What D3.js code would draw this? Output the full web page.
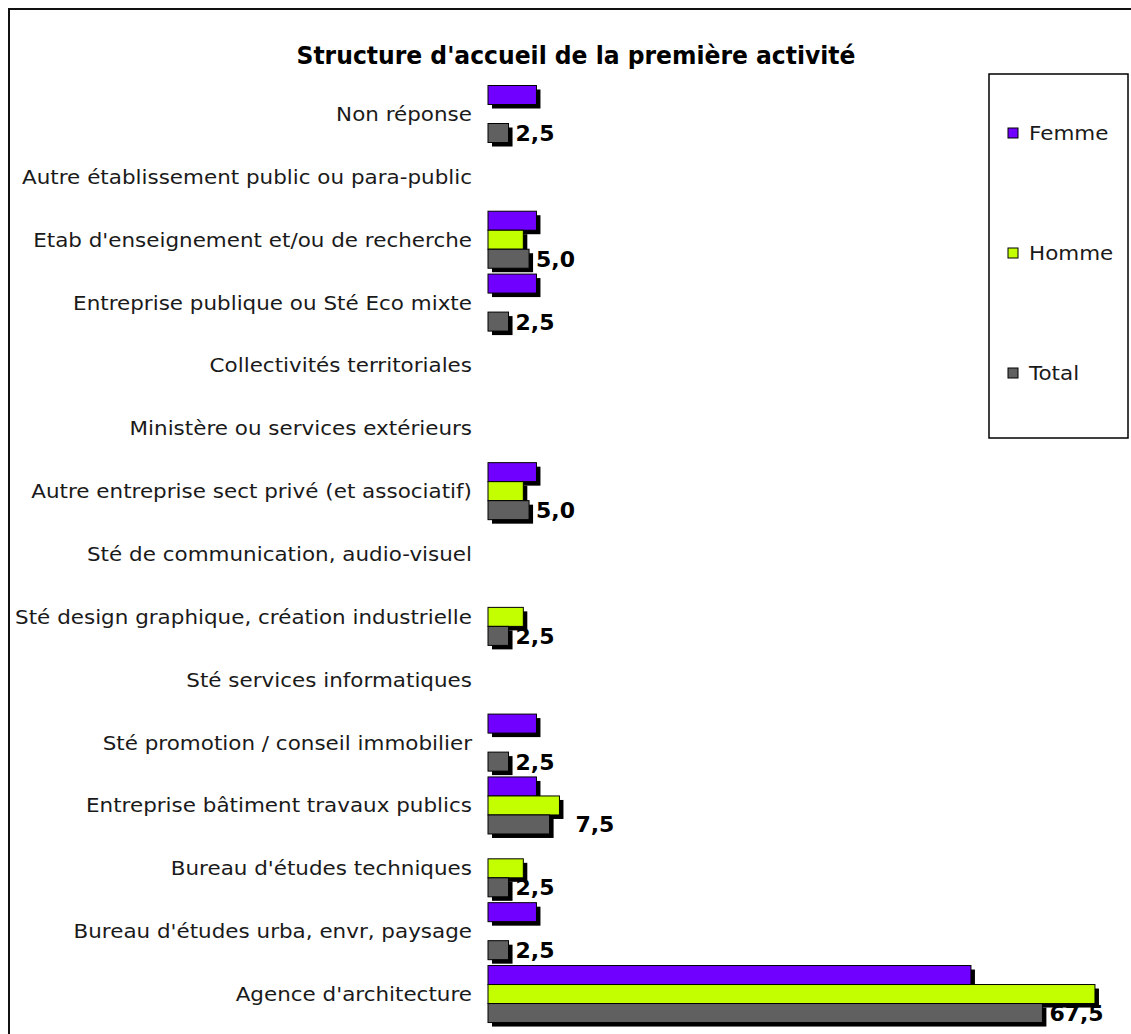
<!DOCTYPE html>
<html><head><meta charset="utf-8">
<script src="https://cdn.jsdelivr.net/npm/d3@7"></script>
<style>body{margin:0;background:#fff}svg{display:block}</style>
</head><body>
<svg id="c" width="1131" height="1034"></svg>
<script>
const categories = [
  "Non réponse",
  "Autre établissement public ou para-public",
  "Etab d'enseignement et/ou de recherche",
  "Entreprise publique ou Sté Eco mixte",
  "Collectivités territoriales",
  "Ministère ou services extérieurs",
  "Autre entreprise sect privé (et associatif)",
  "Sté de communication, audio-visuel",
  "Sté design graphique, création industrielle",
  "Sté services informatiques",
  "Sté promotion / conseil immobilier",
  "Entreprise bâtiment travaux publics",
  "Bureau d'études techniques",
  "Bureau d'études urba, envr, paysage",
  "Agence d'architecture"
];
const seriesNames = ["Femme", "Homme", "Total"];
const femme = [5.9, 0, 5.9, 5.9, 0, 0, 5.9, 0, 0, 0, 5.9, 5.9, 0, 5.9, 58.8];
const homme = [0, 0, 4.3, 0, 0, 0, 4.3, 0, 4.3, 0, 0, 8.7, 4.3, 0, 73.9];
const total = [2.5, 0, 5.0, 2.5, 0, 0, 5.0, 0, 2.5, 0, 2.5, 7.5, 2.5, 2.5, 67.5];
const colors = ["#7000ff", "#c4ff00", "#606060"];
const title = "Structure d'accueil de la première activité";

const values = [femme, homme, total];
const svg = d3.select("#c");
const W = 1131, H = 1034;
const stretch = 1.13;

// frame
svg.append("rect").attr("x", 9).attr("y", 9).attr("width", W + 20).attr("height", H + 20)
  .attr("fill", "#fff").attr("stroke", "#111").attr("stroke-width", 2);

svg.append("text").attr("x", 576).attr("y", 64).attr("text-anchor", "middle")
  .attr("font-family", "DejaVu Sans Condensed, DejaVu Sans").attr("font-weight", "bold")
  .attr("font-size", 25).attr("fill", "#000").attr("textLength", 559).attr("lengthAdjust", "spacingAndGlyphs")
  .text(title);

const step = 62.86;
const y = d3.scaleBand().domain(categories)
  .range([114 - step / 2, 114 + step * (categories.length - 0.5)])
  .paddingInner(0.093).paddingOuter(0.0465);
const yi = d3.scaleBand().domain(seriesNames).range([0, y.bandwidth()]);
const x = d3.scaleLinear().domain([0, 75]).range([488, 1104]);
const sh = 4;

// category labels
svg.append("g").selectAll("text").data(categories).join("text")
  .attr("transform", d => `translate(472,${y(d) + y.bandwidth() / 2 + 7}) scale(${stretch},1)`)
  .attr("text-anchor", "end").attr("font-family", "DejaVu Sans").attr("font-size", 19)
  .attr("fill", "#1a1a1a").text(d => d);

const g = svg.append("g");
categories.forEach((c, ci) => {
  seriesNames.forEach((s, si) => {
    const v = values[si][ci];
    if (!v) return;
    const y0 = y(c) + yi(s), w = x(v) - x(0), h = yi.bandwidth();
    g.append("rect").attr("x", x(0) + sh).attr("y", y0 + sh).attr("width", w).attr("height", h).attr("fill", "#000");
    g.append("rect").attr("x", x(0)).attr("y", y0).attr("width", w).attr("height", h)
      .attr("fill", colors[si]).attr("stroke", "#000").attr("stroke-width", 1);
  });
});

// total value labels
const fmt = v => d3.format(".1f")(v).replace(".", ",");
categories.forEach((c, ci) => {
  const v = total[ci];
  if (!v) return;
  const yc = y(c) + yi("Total") + yi.bandwidth() / 2;
  let lx = x(v) + sh + 3;
  // when all three bars are present and Homme is the longest short bar,
  // the label is pushed past the Homme bar
  const hv = homme[ci], fv = femme[ci];
  if (hv > v && fv > 0 && hv < 20) lx = x(hv) + sh + 12;
  svg.append("text").attr("x", lx).attr("y", yc + 8)
    .attr("font-family", "DejaVu Sans").attr("font-weight", "bold").attr("font-size", 22)
    .attr("fill", "#000").text(fmt(v));
});

// legend
const lg = svg.append("g");
lg.append("rect").attr("x", 989).attr("y", 74).attr("width", 139).attr("height", 364)
  .attr("fill", "#fff").attr("stroke", "#000").attr("stroke-width", 1.5);
const ly = d3.scalePoint().domain(seriesNames).range([133, 373]);
seriesNames.forEach((s, i) => {
  lg.append("rect").attr("x", 1008).attr("y", ly(s) - 5).attr("width", 10).attr("height", 10)
    .attr("fill", colors[i]).attr("stroke", "#000").attr("stroke-width", 1);
  lg.append("text").attr("transform", `translate(1029,${ly(s) + 7}) scale(${stretch},1)`)
    .attr("font-family", "DejaVu Sans").attr("font-size", 19).attr("fill", "#1a1a1a").text(s);
});
</script>
</body></html>
